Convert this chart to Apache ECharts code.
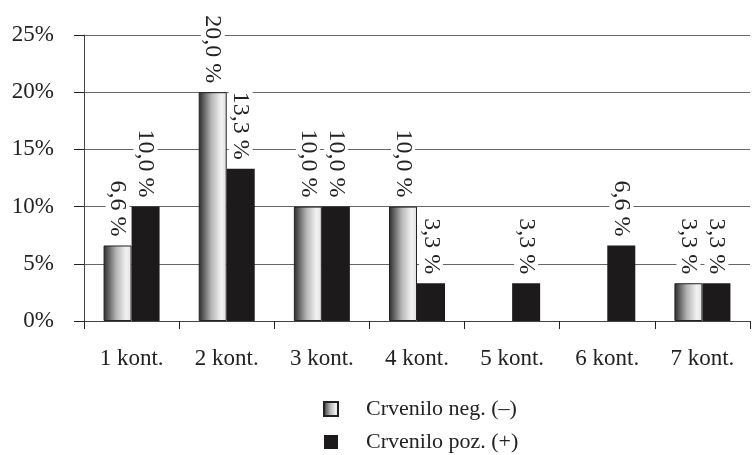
<!DOCTYPE html>
<html>
<head>
<meta charset="utf-8">
<script src="https://cdn.jsdelivr.net/npm/echarts@6/dist/echarts.min.js"></script>
<style>
  html, body { margin: 0; padding: 0; background: #fff; }
  #chart { width: 755px; height: 455px; }
</style>
</head>
<body>
<div id="chart"></div>
<script>
var categories = ['1 kont.', '2 kont.', '3 kont.', '4 kont.', '5 kont.', '6 kont.', '7 kont.'];
var negValues = [6.6, 20.0, 10.0, 10.0, 0, 0, 3.3];
var pozValues = [10.0, 13.3, 10.0, 3.3, 3.3, 6.6, 3.3];
var seriesNames = ['Crvenilo neg. (–)', 'Crvenilo poz. (+)'];

var fontFam = '"Liberation Serif", "DejaVu Serif", serif';

// zero bars are not drawn in the original
function noZero(arr) {
  return arr.map(function (v) { return v === 0 ? '-' : v; });
}

function fmtLabel(p) {
  if (!p.value || p.value === '-') return '';
  return p.value.toFixed(1).replace('.', ',') + ' %';
}

var labelCfg = {
  show: true,
  position: 'top',
  rotate: -90,
  align: 'right',
  verticalAlign: 'middle',
  distance: 8,
  color: '#222',
  fontFamily: fontFam,
  fontSize: 24,
  backgroundColor: '#fff',
  padding: [0, 1, 0, 3],
  formatter: fmtLabel
};

var chart = echarts.init(document.getElementById('chart'));
var option = {
  animation: false,
  textStyle: { fontFamily: fontFam },
  grid: { left: 84, right: 5, top: 35, bottom: 134 },
  legend: {
    orient: 'vertical',
    left: 323,
    top: 397,
    height: 120,
    padding: 0,
    itemWidth: 14,
    itemHeight: 14,
    itemGap: 9,
    icon: 'rect',
    textStyle: { fontFamily: fontFam, fontSize: 22, lineHeight: 24, color: '#222', padding: [0, 0, 0, 23] },
    data: seriesNames
  },
  xAxis: {
    type: 'category',
    data: categories,
    axisLine: { lineStyle: { color: '#444', width: 1 } },
    axisTick: { show: true, length: 8, lineStyle: { color: '#222' } },
    axisLabel: { color: '#222', fontSize: 23, fontFamily: fontFam, margin: 26 }
  },
  yAxis: {
    type: 'value',
    min: 0,
    max: 25,
    interval: 5,
    axisLine: { show: true, lineStyle: { color: '#444', width: 1 } },
    axisTick: { show: true, length: 10, lineStyle: { color: '#222' } },
    axisLabel: { color: '#222', fontSize: 23, fontFamily: fontFam, margin: 30, formatter: '{value}%' },
    splitLine: { lineStyle: { color: '#666', width: 1 } }
  },
  series: [
    {
      name: seriesNames[0],
      type: 'bar',
      data: noZero(negValues),
      barWidth: 28,
      barGap: '0%',
      itemStyle: {
        borderColor: '#222',
        borderWidth: 1,
        color: {
          type: 'linear', x: 0, y: 0, x2: 1, y2: 0,
          colorStops: [
            { offset: 0, color: '#2a2a2a' },
            { offset: 0.45, color: '#b5b5b5' },
            { offset: 0.8, color: '#f2f2f2' },
            { offset: 1, color: '#e0e0e0' }
          ]
        }
      },
      label: labelCfg
    },
    {
      name: seriesNames[1],
      type: 'bar',
      data: noZero(pozValues),
      barWidth: 28,
      itemStyle: { color: '#1c1a1b' },
      label: labelCfg
    }
  ]
};
chart.setOption(option);
</script>
</body>
</html>
